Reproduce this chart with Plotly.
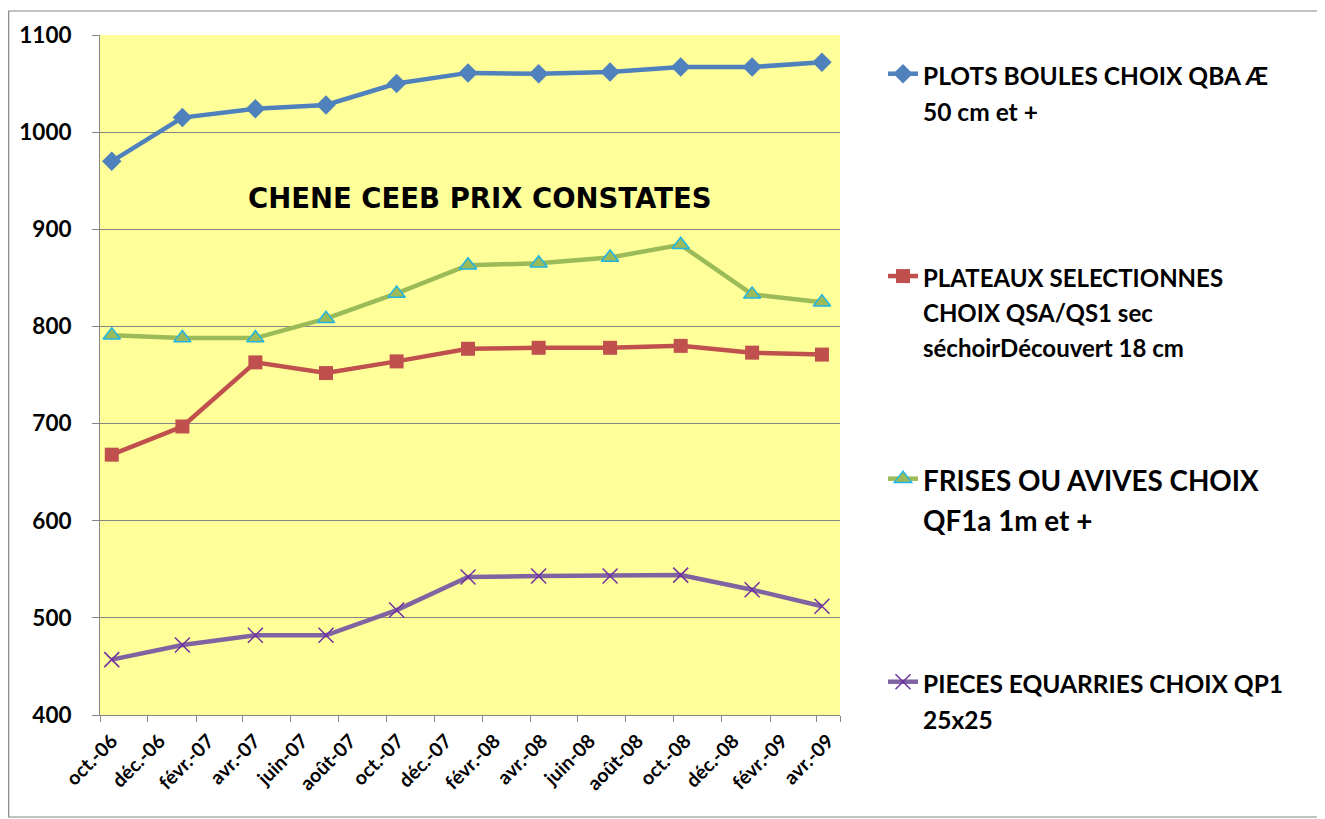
import plotly.graph_objects as go
import pandas as pd

# ---- data ----
dates = ["2006-10-16", "2007-01-14", "2007-04-17", "2007-07-16", "2007-10-14",
         "2008-01-13", "2008-04-12", "2008-07-12", "2008-10-10", "2009-01-09",
         "2009-04-08"]
plots_boules = [970, 1015, 1024, 1028, 1050, 1061, 1060, 1062, 1067, 1067, 1072]
plateaux = [668, 697, 763, 752, 764, 777, 778, 778, 780, 773, 771]
frises = [791, 788, 788, 808, 834, 863, 865, 871, 884, 833, 825]
pieces = [457, 472, 482, 482, 508, 542, 543, 543, 544, 529, 512]

tick_labels = ["oct.-06", "déc.-06", "févr.-07", "avr.-07", "juin-07", "août-07",
               "oct.-07", "déc.-07", "févr.-08", "avr.-08", "juin-08", "août-08",
               "oct.-08", "déc.-08", "févr.-09", "avr.-09"]

names = [
    "PLOTS BOULES CHOIX QBA Æ<br>50 cm et +",
    "PLATEAUX SELECTIONNES<br>CHOIX QSA/QS1 sec<br>séchoirDécouvert 18 cm",
    "FRISES OU AVIVES CHOIX<br>QF1a 1m et +",
    "PIECES EQUARRIES CHOIX QP1<br>25x25",
]
title_text = "CHENE CEEB PRIX CONSTATES"

# ---- styling ----
FONT = "Lato, 'Open Sans', sans-serif"
GRID = "#868686"
W, H = 1325, 819
L, T, PW, PH = 92, 27, 740, 680          # plot area in figure pixels
month_starts = pd.date_range("2006-10-01", periods=len(tick_labels), freq="2MS")
label_pos = [d + pd.Timedelta(days=15) for d in month_starts]


def legend_name(txt, size):
    return "<br>".join(f'<span style="font-size:{size}px">{p}</span>' for p in txt.split("<br>"))


def px_x(fx):
    return (fx - L) / PW


def px_y(fy):
    return (T + PH - fy) / PH


fig = go.Figure()
series = [
    (plots_boules, "#4F81BD", dict(symbol="diamond", size=15, color="#4F81BD",
                                   line=dict(width=0)), "legend"),
    (plateaux, "#C0504D", dict(symbol="square", size=14, color="#C0504D",
                               line=dict(width=0)), "legend2"),
    (frises, "#9BBB59", dict(symbol="triangle-up", size=15, color="#9BBB59",
                             line=dict(width=1.5, color="#1FB4E8")), "legend3"),
    (pieces, "#8064A2", dict(symbol="x-thin", size=15, color="#8064A2",
                             line=dict(width=1.5, color="#7030A0")), "legend4"),
]
text_sizes = [24.5, 24, 27.8, 24.5]
base_sizes = [28, 27, 31, 28]
for (vals, col, mk, lg), nm, sz, bs in zip(series, names, text_sizes, base_sizes):
    fig.add_trace(go.Scatter(
        x=dates, y=vals, mode="lines+markers", name=legend_name(nm, sz),
        line=dict(color=col, width=4.5), marker=mk, legend=lg))

legend_y_px = [41, 244, 444, 649]
for i, (ypx, bs) in enumerate(zip(legend_y_px, base_sizes)):
    key = "legend" if i == 0 else f"legend{i+1}"
    fig.update_layout(**{key: dict(
        xref="container", yref="container", x=875 / W, y=1 - ypx / H,
        xanchor="left", yanchor="top", valign="top",
        bgcolor="rgba(0,0,0,0)", borderwidth=0,
        font=dict(family=FONT, size=bs, color="black", weight="bold"),
        itemclick=False, itemdoubleclick=False)})

fig.add_annotation(
    x=px_x(472), y=px_y(190), xref="paper", yref="paper",
    text=title_text, showarrow=False, xanchor="center", yanchor="middle",
    font=dict(family="'Comic Sans MS', 'DejaVu Sans', sans-serif", size=27.5,
              color="black", weight="bold"))

# outer chart border
fig.add_shape(type="rect", xref="paper", yref="paper",
              x0=px_x(0.7), x1=px_x(1313),
              y0=px_y(809), y1=px_y(3),
              line=dict(color=GRID, width=1.2), fillcolor="rgba(0,0,0,0)", layer="below")

fig.update_layout(
    width=W, height=H,
    margin=dict(l=L, r=W - L - PW, t=T, b=H - T - PH),
    paper_bgcolor="white", plot_bgcolor="#FFFF99",
    showlegend=True,
    xaxis=dict(
        type="date", range=["2006-10-01", "2009-05-01"],
        tickmode="array", tickvals=label_pos, ticktext=tick_labels,
        ticks="", tickangle=-45, showgrid=False,
        showline=True, linecolor=GRID, linewidth=1,
        tickfont=dict(family=FONT, size=19.5, color="black", weight="bold"),
        ticklabelstandoff=6,
        minor=dict(tickmode="array", tickvals=list(month_starts) + ["2009-05-01"],
                   ticks="outside", ticklen=6, tickcolor=GRID, tickwidth=1,
                   showgrid=False),
    ),
    yaxis=dict(
        range=[400, 1100], dtick=100, tick0=400,
        showgrid=True, gridcolor=GRID, gridwidth=1,
        showline=True, linecolor=GRID, linewidth=1,
        ticks="outside", ticklen=7, tickcolor=GRID,
        tickfont=dict(family=FONT, size=22.5, color="black", weight="bold"),
        ticklabelstandoff=16, zeroline=False,
    ),
)

fig.write_html("out.html")
